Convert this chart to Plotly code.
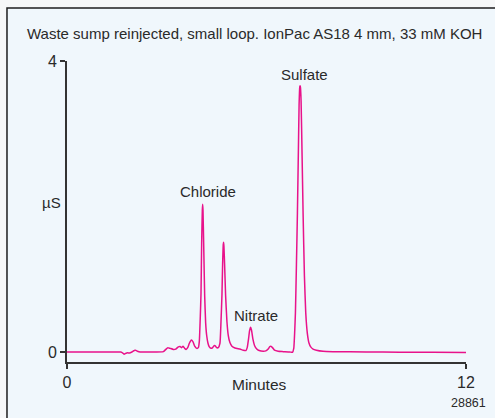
import plotly.graph_objects as go

# Chromatogram trace (minutes, µS)
time_min = [0, 0.5, 1.0, 1.5, 1.62, 1.68, 1.72, 1.76, 1.82, 1.88, 1.95, 2.02, 2.06, 2.12, 2.2, 2.5, 2.9,
            2.98, 3.03, 3.1, 3.2, 3.27, 3.35, 3.4, 3.44, 3.49, 3.54, 3.58, 3.63, 3.68, 3.74, 3.79, 3.84, 3.9, 3.95,
            3.98, 4.01, 4.03, 4.05, 4.07, 4.08, 4.09, 4.11, 4.14, 4.17, 4.20, 4.24, 4.28, 4.33, 4.38, 4.43, 4.46,
            4.50, 4.55, 4.60,
            4.63, 4.66, 4.68, 4.70, 4.71, 4.72, 4.74, 4.77, 4.81, 4.85, 4.90, 4.96, 5.05, 5.2, 5.3, 5.38,
            5.42, 5.46, 5.49, 5.52, 5.55, 5.59, 5.64, 5.7, 5.78, 5.9, 5.98, 6.05, 6.1, 6.13, 6.18, 6.24, 6.35,
            6.5, 6.7, 6.78,
            6.82, 6.85, 6.87, 6.90, 6.93, 6.96, 6.98, 7.00, 7.01, 7.02, 7.04, 7.07, 7.10, 7.14, 7.18, 7.23,
            7.28, 7.33, 7.40, 7.5, 7.7, 8.0, 9.0, 10.0, 11.0, 12.0]
signal_us = [0, 0, 0, 0, 0, -0.015, -0.03, -0.02, -0.01, -0.015, 0.0, 0.02, 0.025, 0.01, 0.0, 0.0, 0.005,
             0.04, 0.06, 0.05, 0.035, 0.04, 0.07, 0.075, 0.06, 0.08, 0.05, 0.035, 0.06, 0.12, 0.165, 0.14, 0.08,
             0.05, 0.06,
             0.15, 0.5, 0.8, 1.5, 1.95, 2.03, 1.95, 1.5, 0.78, 0.4, 0.23, 0.12, 0.07, 0.05, 0.06, 0.09, 0.085,
             0.06, 0.06, 0.12,
             0.4, 0.78, 1.2, 1.48, 1.51, 1.45, 1.2, 0.78, 0.42, 0.23, 0.13, 0.08, 0.055, 0.04, 0.025, 0.02,
             0.06, 0.18, 0.29, 0.34, 0.3, 0.18, 0.09, 0.045, 0.02, 0.01, 0.015, 0.04, 0.075, 0.08, 0.06, 0.025,
             0.01, 0.005, 0.0, -0.005,
             0.05, 0.3, 0.54, 1.2, 1.91, 2.8, 3.4, 3.64, 3.66, 3.64, 3.45, 2.7, 1.91, 1.05, 0.54, 0.25,
             0.12, 0.07, 0.04, 0.025, 0.01, 0.005, 0.0, -0.002, -0.005, -0.008]

peak_names = ["Chloride", "Nitrate", "Sulfate"]
peak_label_x = [4.24, 5.68, 7.13]
peak_label_y = [2.20, 0.50, 3.81]

x_ticks = [0, 12]
y_ticks = [0, 4]

FONT = "Liberation Sans, Arial, sans-serif"
INK = "#2a2a2a"
TRACE = "#e8128a"
BG = "#f0f7fc"

fig = go.Figure()
fig.add_trace(go.Scatter(x=time_min, y=signal_us, mode="lines",
                         line=dict(color=TRACE, width=1.5, shape="spline", smoothing=0.4),
                         hoverinfo="skip", showlegend=False))

for name, lx, ly in zip(peak_names, peak_label_x, peak_label_y):
    fig.add_annotation(x=lx, y=ly, text=name, showarrow=False,
                       font=dict(family=FONT, size=15, color=INK),
                       xanchor="center", yanchor="middle")

fig.add_annotation(xref="paper", yref="paper", x=0.471, y=1.093,
                   text="Waste sump reinjected, small loop. IonPac AS18 4 mm, 33 mM KOH",
                   showarrow=False, font=dict(family=FONT, size=15, color=INK),
                   xanchor="center", yanchor="middle")
fig.add_annotation(xref="paper", yref="paper", x=-0.0376, y=0.529, text="µS",
                   showarrow=False, font=dict(family=FONT, size=15, color=INK),
                   xanchor="center", yanchor="middle")
fig.add_annotation(xref="paper", yref="paper", x=0.4837, y=-0.0764, text="Minutes",
                   showarrow=False, font=dict(family=FONT, size=15.5, color=INK),
                   xanchor="center", yanchor="middle")
fig.add_annotation(xref="paper", yref="paper", x=1.0075, y=-0.136, text="28861",
                   showarrow=False, font=dict(family=FONT, size=12.5, color=INK),
                   xanchor="center", yanchor="middle")

# outer frame (left and top edges visible, extends past the window)
fig.add_shape(type="rect", xref="paper", yref="paper", x0=-0.1504, x1=1.2, y0=-0.4, y1=1.176,
              line=dict(color="#1e1e1e", width=1.5), fillcolor=BG, layer="below")

fig.update_xaxes(range=[0, 12], tickvals=x_ticks, ticktext=[str(v) for v in x_ticks],
                 showline=True, linecolor="#333333", linewidth=2, ticks="outside",
                 ticklen=5, tickwidth=1.5, tickcolor="#333333", showgrid=False, zeroline=False,
                 tickfont=dict(family=FONT, size=16, color=INK))
fig.update_yaxes(range=[-0.1375, 4], tickvals=y_ticks, ticktext=[str(v) for v in y_ticks],
                 showline=True, linecolor="#333333", linewidth=2, ticks="outside",
                 ticklen=5, tickwidth=1.5, tickcolor="#333333", showgrid=False, zeroline=False,
                 tickfont=dict(family=FONT, size=16, color=INK))

fig.update_layout(width=495, height=418, margin=dict(l=67, r=29, t=61, b=56),
                  paper_bgcolor="#f6f7f8", plot_bgcolor=BG, showlegend=False)

fig.write_html("out.html", config={"displayModeBar": False},
               post_script="document.body.style.margin='0';")
